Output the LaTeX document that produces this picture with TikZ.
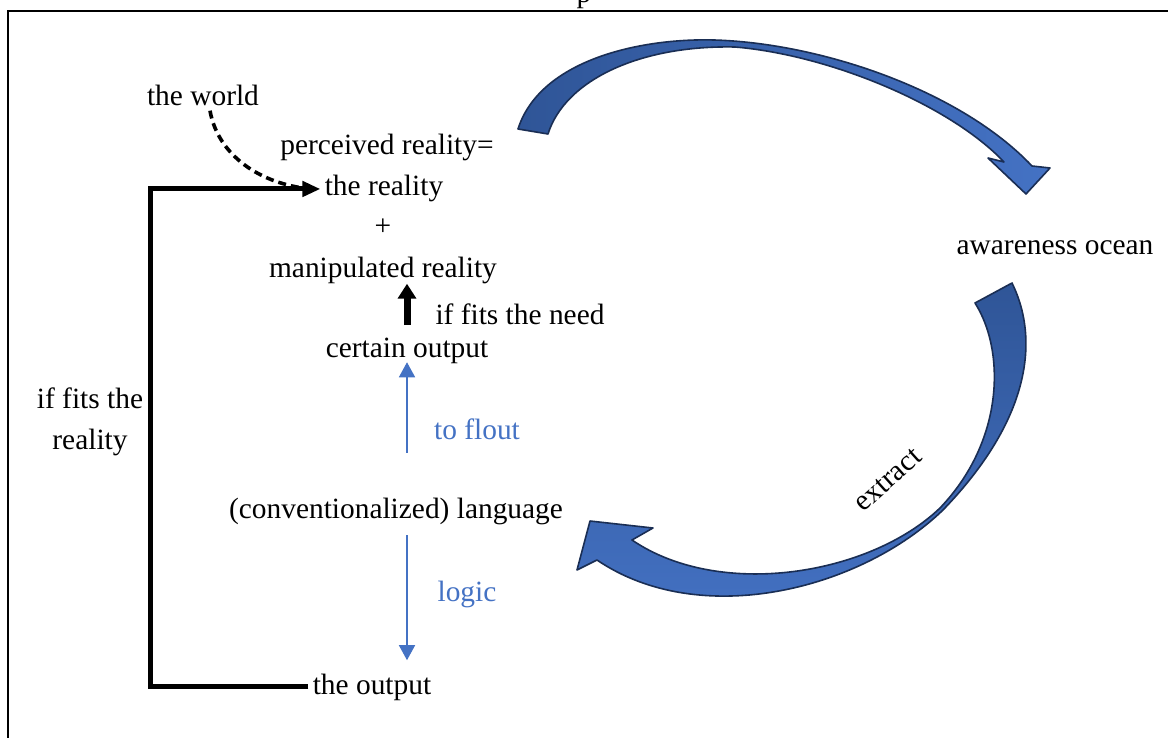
\documentclass[tikz,border=0pt]{standalone}
\usepackage{fontspec}
\setmainfont{Liberation Serif}
\usetikzlibrary{arrows.meta}
\definecolor{ribdark}{RGB}{47,85,151}
\definecolor{riblight}{RGB}{68,114,196}
\definecolor{ribline}{RGB}{26,46,84}
\definecolor{txtblue}{RGB}{68,114,196}
\begin{document}
\begin{tikzpicture}[x=0.5pt,y=-0.5pt,
  font=\fontsize{14.7}{20.5}\selectfont,
  lbl/.style={anchor=base, inner sep=2pt},
  ribbon/.style={draw=ribline, line width=0.8pt, line join=round},
  blkL/.style={line width=2.5pt, -{Triangle[length=9pt,width=7.5pt]}},
  dsh/.style={line width=1.8pt, dash pattern=on 4pt off 2.5pt},
  thk/.style={line width=3.5pt, -{Triangle[length=7.5pt,width=9pt]}},
  blu/.style={draw=txtblue, line width=0.75pt, -{Triangle[length=7.5pt,width=8pt]}}]
\useasboundingbox (0,0) rectangle (1168,738);
\clip (0,0) rectangle (1168,738);
\fill[white] (0,0) rectangle (1168,738);
% frame
\draw[line width=1.2pt] (8,760) -- (8,11) -- (1190,11);
\node[anchor=base] (ttl) at (584,2.5) {p};
% ribbons
\path[ribbon, left color=ribdark, right color=riblight]
  (518,129) .. controls (540,60) and (640,38) .. (714,40)
  .. controls (820,43) and (960,90) .. (1032,166)
  -- (1050,168) -- (1026,194) -- (988,158) -- (1004,162)
  .. controls (950,105) and (830,55) .. (735,47)
  .. controls (640,45) and (565,80) .. (548,134) -- cycle;
\path[ribbon, top color=ribdark, bottom color=riblight]
  (1012,283) .. controls (1040,340) and (1030,420) .. (943,510)
  .. controls (860,590) and (700,630) .. (597,560)
  -- (577,570) -- (590,521) -- (653,528) -- (632,540)
  .. controls (720,600) and (870,575) .. (940,508)
  .. controls (1005,440) and (1005,350) .. (975,303) -- cycle;
% texts
\node[lbl] (world) at (203,106) {the world};
\node[lbl] (perc) at (387,155) {perceived reality=};
\node[lbl] (real) at (384,196) {the reality};
\node[lbl] (plus) at (383,235) {+};
\node[lbl] (manip) at (383,277) {manipulated reality};
\node[lbl] (need) at (520,324) {if fits the need};
\node[lbl] (cert) at (407,357) {certain output};
\node[lbl, text=txtblue] (flout) at (477,439) {to flout};
\node[lbl] (lang) at (396,518) {(conventionalized) language};
\node[lbl, text=txtblue] (logic) at (467,601) {logic};
\node[lbl] (out) at (372,694) {the output};
\node[align=center, inner sep=2pt] (fits) at (90,422) {if fits the\\reality};
\node[lbl] (ocean) at (1055,254) {awareness ocean};
\node[rotate=42] (extr) at (888,480) {extract};
% connectors
\coordinate (Lc) at (150,690);
\coordinate (colx) at (407,0);
\draw[blkL] (out.west) -- (out.west -| Lc) |- (real.west);
\draw[dsh] ([xshift=3.5pt]world.south) .. controls +(8,45) and +(-50,-5) .. ([xshift=-5pt]real.west);
\draw[thk, shorten <=4pt, shorten >=-2pt] (cert.north -| colx) -- (manip.south -| colx);
\draw[blu, shorten <=20.3pt, shorten >=-2.7pt] (lang.north -| colx) -- (cert.south -| colx);
\draw[blu, shorten <=3.2pt, shorten >=4.5pt] (lang.south -| colx) -- (out.north -| colx);
\end{tikzpicture}
\end{document}
